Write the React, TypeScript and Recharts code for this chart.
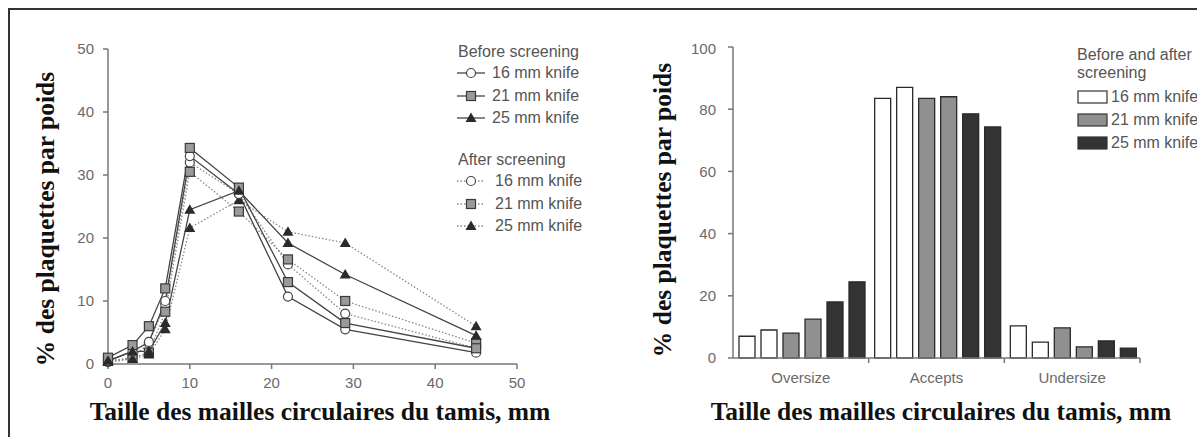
import React from "react";
import { LineChart, Line, BarChart, Bar, XAxis, YAxis } from "recharts";

// left panel: sieve opening (mm) vs % by weight
const SIEVE = [0, 3, 5, 7, 10, 16, 22, 29, 45];
const BEFORE_16 = [0.5, 2, 3.5, 10, 33, 27, 10.7, 5.5, 1.8];
const BEFORE_21 = [1, 3, 6, 12, 34.3, 28, 13, 6.5, 2.5];
const BEFORE_25 = [0.5, 2, 2, 6.5, 24.5, 27.5, 19.2, 14.2, 4.5];
const AFTER_16 = [0.3, 1, 3.3, 9.5, 32, 27, 15.8, 8, 2.5];
const AFTER_21 = [0.5, 1, 1.8, 8.3, 30.5, 24.2, 16.6, 10, 3.3];
const AFTER_25 = [0.3, 0.8, 1.5, 5.5, 21.6, 26, 21, 19.2, 6];
const LEFT_X_TICKS = [0, 10, 20, 30, 40, 50];
const LEFT_Y_TICKS = [0, 10, 20, 30, 40, 50];

// right panel: fractions before / after screening
const FRACTIONS = ["Oversize", "Accepts", "Undersize"];
const BAR_B16 = [7, 83.5, 10.3];
const BAR_A16 = [9, 87, 5.1];
const BAR_B21 = [8, 83.5, 9.7];
const BAR_A21 = [12.5, 84, 3.6];
const BAR_B25 = [18, 78.5, 5.5];
const BAR_A25 = [24.5, 74.3, 3.2];
const RIGHT_Y_TICKS = [0, 20, 40, 60, 80, 100];

const AXIS = "#777";
const TICK = { fill: "#6a6a6a", fontSize: 15, fontFamily: "'Liberation Sans', Arial, sans-serif" };
const TITLE_FONT = "'Liberation Serif', 'Times New Roman', serif";
const LEGEND_FONT = "'Liberation Sans', Arial, sans-serif";

const WHITE = "#ffffff";
const GREY = "#909090";
const DARK = "#333333";

type Shape = "circle" | "square" | "triangle";

const Marker = ({ cx, cy, shape }: { cx: number; cy: number; shape: Shape }) => {
  if (cx == null || cy == null) return null;
  if (shape === "circle") return <circle cx={cx} cy={cy} r={4.5} fill="#fff" stroke="#444" strokeWidth={1.2} />;
  if (shape === "square")
    return <rect x={cx - 4.5} y={cy - 4.5} width={9} height={9} fill="#9a9a9a" stroke="#3a3a3a" strokeWidth={1.2} />;
  return <polygon points={`${cx},${cy - 5.5} ${cx - 5.5},${cy + 4} ${cx + 5.5},${cy + 4}`} fill="#2a2a2a" />;
};

const lineData = SIEVE.map((x, i) => ({
  x,
  b16: BEFORE_16[i],
  b21: BEFORE_21[i],
  b25: BEFORE_25[i],
  a16: AFTER_16[i],
  a21: AFTER_21[i],
  a25: AFTER_25[i],
}));

const barData = FRACTIONS.map((name, i) => ({
  name,
  b16: BAR_B16[i],
  a16: BAR_A16[i],
  b21: BAR_B21[i],
  a21: BAR_A21[i],
  b25: BAR_B25[i],
  a25: BAR_A25[i],
}));

const SERIES: { key: string; shape: Shape; after: boolean }[] = [
  { key: "a16", shape: "circle", after: true },
  { key: "a21", shape: "square", after: true },
  { key: "a25", shape: "triangle", after: true },
  { key: "b16", shape: "circle", after: false },
  { key: "b21", shape: "square", after: false },
  { key: "b25", shape: "triangle", after: false },
];

const BARS = [
  { key: "b16", fill: WHITE },
  { key: "a16", fill: WHITE },
  { key: "b21", fill: GREY },
  { key: "a21", fill: GREY },
  { key: "b25", fill: DARK },
  { key: "a25", fill: DARK },
];

// category label + small tick on the band boundary
const CatTick = (props: any) => {
  const { x, y, payload } = props;
  const off = payload?.offset;
  const axisY = y - 14;
  return (
    <g>
      <text x={x} y={y} dy="0.71em" textAnchor="middle" {...TICK}>
        {payload.value}
      </text>
      {typeof off === "number" && off > 0 && (
        <line x1={x + off} x2={x + off} y1={axisY} y2={axisY + 5} stroke={AXIS} strokeWidth={1.5} />
      )}
    </g>
  );
};

const yTitle = (cx: number, cy: number) => ({
  position: "absolute" as const,
  left: cx,
  top: cy,
  transform: "translate(-50%, -50%) rotate(-90deg)",
  whiteSpace: "nowrap" as const,
  fontFamily: TITLE_FONT,
  fontWeight: 700,
  fontSize: 25.5,
  lineHeight: "28px",
  color: "#111",
});

const xTitle = (cx: number, cy: number) => ({
  position: "absolute" as const,
  left: cx,
  top: cy,
  transform: "translate(-50%, -50%)",
  whiteSpace: "nowrap" as const,
  fontFamily: TITLE_FONT,
  fontWeight: 700,
  fontSize: 25.5,
  lineHeight: "28px",
  color: "#111",
});

const legendText = (left: number, top: number) => ({
  position: "absolute" as const,
  left,
  top,
  transform: "translateY(-50%)",
  whiteSpace: "nowrap" as const,
  fontFamily: LEGEND_FONT,
  fontSize: 16,
  color: "#555",
  lineHeight: "18px",
});

const LineSample = ({ left, top, shape, after }: { left: number; top: number; shape: Shape; after: boolean }) => (
  <svg style={{ position: "absolute", left, top: top - 7 }} width={30} height={14}>
    <line
      x1={1}
      x2={29}
      y1={7}
      y2={7}
      stroke={after ? "#888" : "#444"}
      strokeWidth={1.3}
      strokeDasharray={after ? "1.5 2" : undefined}
    />
    <Marker cx={15} cy={7} shape={shape} />
  </svg>
);

const BoxSample = ({ left, top, fill }: { left: number; top: number; fill: string }) => (
  <svg style={{ position: "absolute", left, top: top - 7 }} width={32} height={14}>
    <rect x={1} y={1} width={29} height={12} fill={fill} stroke="#333" strokeWidth={1.2} />
  </svg>
);

const LEFT_LEGEND = [
  { label: "16 mm knife", shape: "circle" as Shape },
  { label: "21 mm knife", shape: "square" as Shape },
  { label: "25 mm knife", shape: "triangle" as Shape },
];

const RIGHT_LEGEND = [
  { label: "16 mm knife", fill: WHITE },
  { label: "21 mm knife", fill: GREY },
  { label: "25 mm knife", fill: DARK },
];

export default function App() {
  // container inner origin sits at page (10,10)
  return (
    <div
      style={{
        position: "absolute",
        left: 8,
        top: 8,
        width: 1189,
        height: 429,
        borderTop: "2px solid #333",
        borderLeft: "2px solid #333",
        boxSizing: "border-box",
        overflow: "hidden",
        background: "#fff",
      }}
    >
      <div style={{ position: "absolute", left: 50, top: 30 }}>
        <LineChart width={470} height={354} data={lineData} margin={{ top: 9, right: 13, bottom: 0, left: 0 }}>
          <XAxis
            dataKey="x"
            type="number"
            domain={[0, 50]}
            ticks={LEFT_X_TICKS}
            height={30}
            tick={TICK}
            tickSize={5}
            tickMargin={8}
            axisLine={{ stroke: AXIS, strokeWidth: 1.5 }}
            tickLine={{ stroke: AXIS, strokeWidth: 1.5 }}
          />
          <YAxis
            type="number"
            domain={[0, 50]}
            ticks={LEFT_Y_TICKS}
            width={48}
            tick={TICK}
            tickSize={5}
            tickMargin={9}
            axisLine={{ stroke: AXIS, strokeWidth: 1.5 }}
            tickLine={{ stroke: AXIS, strokeWidth: 1.5 }}
          />
          {SERIES.map((s) => (
            <Line
              key={s.key}
              dataKey={s.key}
              type="linear"
              stroke={s.after ? "#888" : "#444"}
              strokeWidth={1.3}
              strokeDasharray={s.after ? "1.5 2" : undefined}
              isAnimationActive={false}
              dot={(p: any) => <Marker key={`${s.key}-${p.index}`} cx={p.cx} cy={p.cy} shape={s.shape} />}
              activeDot={false}
            />
          ))}
        </LineChart>
      </div>

      <div style={{ position: "absolute", left: 670, top: 30 }}>
        <BarChart
          width={470}
          height={348}
          data={barData}
          margin={{ top: 7, right: 10, bottom: 0, left: 0 }}
          barCategoryGap={6}
          barGap={6}
        >
          <XAxis
            dataKey="name"
            height={30}
            tick={<CatTick />}
            tickSize={6}
            tickMargin={8}
            tickLine={false}
            axisLine={{ stroke: AXIS, strokeWidth: 1.5 }}
          />
          <YAxis
            type="number"
            domain={[0, 100]}
            ticks={RIGHT_Y_TICKS}
            width={53}
            tick={TICK}
            tickSize={5}
            tickMargin={12}
            axisLine={{ stroke: AXIS, strokeWidth: 1.5 }}
            tickLine={{ stroke: AXIS, strokeWidth: 1.5 }}
          />
          {BARS.map((b) => (
            <Bar key={b.key} dataKey={b.key} fill={b.fill} stroke="#2a2a2a" strokeWidth={1.3} isAnimationActive={false} />
          ))}
        </BarChart>
      </div>

      <div style={yTitle(36, 209)}>% des plaquettes par poids</div>
      <div style={xTitle(310, 402)}>Taille des mailles circulaires du tamis, mm</div>
      <div style={yTitle(653, 200)}>% des plaquettes par poids</div>
      <div style={xTitle(931, 402)}>Taille des mailles circulaires du tamis, mm</div>

      {/* left legend */}
      <div style={legendText(448, 42)}>Before screening</div>
      {LEFT_LEGEND.map((l, i) => (
        <React.Fragment key={`b-${l.label}`}>
          <LineSample left={446} top={63 + i * 22.5} shape={l.shape} after={false} />
          <div style={legendText(482, 63 + i * 22.5)}>{l.label}</div>
        </React.Fragment>
      ))}
      <div style={legendText(448, 150)}>After screening</div>
      {LEFT_LEGEND.map((l, i) => (
        <React.Fragment key={`a-${l.label}`}>
          <LineSample left={446} top={171 + i * 22.5} shape={l.shape} after />
          <div style={legendText(485, 171 + i * 22.5)}>{l.label}</div>
        </React.Fragment>
      ))}

      {/* right legend */}
      <div style={legendText(1067, 45)}>Before and after</div>
      <div style={legendText(1067, 63)}>screening</div>
      {RIGHT_LEGEND.map((l, i) => (
        <React.Fragment key={`r-${l.label}`}>
          <BoxSample left={1067} top={87 + i * 23} fill={l.fill} />
          <div style={legendText(1101, 87 + i * 23)}>{l.label}</div>
        </React.Fragment>
      ))}
    </div>
  );
}
